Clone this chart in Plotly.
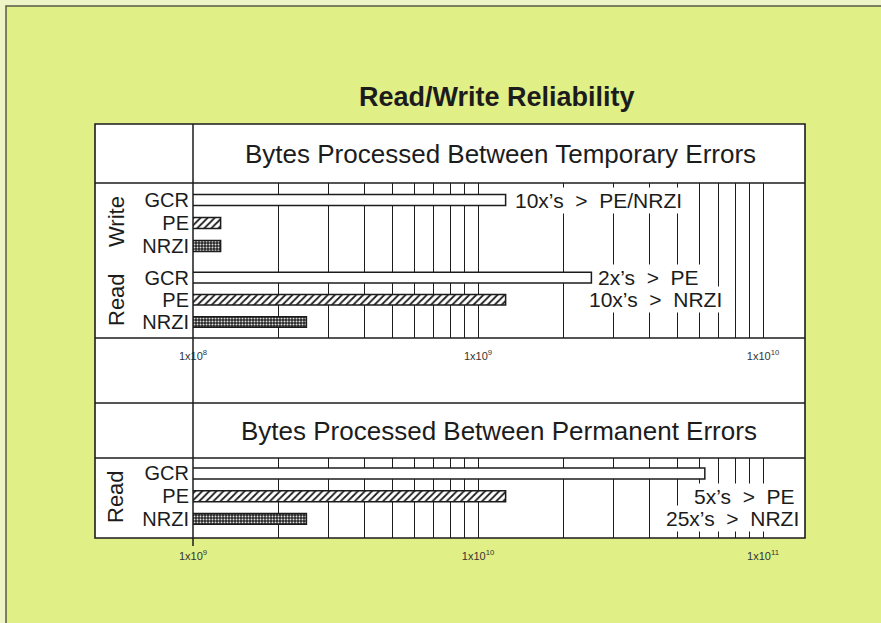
import numpy as np
import plotly.graph_objects as go

# values (bytes processed between errors)
rows = ["GCR", "PE", "NRZI"]
temp_write = [1.25e9, 1.25e8, 1.25e8]
temp_read = [2.5e9, 1.25e9, 2.5e8]
perm_read = [6.25e10, 1.25e10, 2.5e9]

temp_decades = [8, 9, 10]
perm_decades = [9, 10, 11]

title = "Read/Write Reliability"
temp_title = "Bytes Processed Between Temporary Errors"
perm_title = "Bytes Processed Between Permanent Errors"
write_note = "10x’s\u00a0 >\u00a0 PE/NRZI"
read_notes = ["2x’s\u00a0 >\u00a0 PE", "10x’s\u00a0 >\u00a0 NRZI"]
perm_notes = ["5x’s\u00a0 >\u00a0 PE", "25x’s\u00a0 >\u00a0 NRZI"]

W, H = 881, 623


def px(x):
    return x / W


def py(y):
    return 1 - y / H


FONT = "Liberation Sans, Arial, Helvetica, sans-serif"
INK = "#1c1c1c"
PAGE = "#e0ef86"

outline = dict(color=INK, width=1.5)
styles = {
    "GCR": dict(color="white", line=outline),
    "PE": dict(color="white", line=outline,
               pattern=dict(shape="/", fgcolor=INK, bgcolor="white",
                            size=5, solidity=0.35, fillmode="replace")),
    "NRZI": dict(color="#262626", line=outline,
                 pattern=dict(shape=".", fgcolor="#e0e0e0", bgcolor="#262626",
                              size=3, solidity=0.35, fillmode="replace")),
}


def decade_ticks(decades):
    vals = [10.0 ** d for d in decades]
    text = [f"1x10<sup>{d}</sup>" for d in decades]
    minor = [k * 10.0 ** d for d in decades[:-1] for k in range(2, 10)]
    return vals, text, minor


# one decade is ~285px wide, axis runs from x=193 to x=805
span = (805 - 193) / 285

fig = go.Figure()

panels = [(temp_write, "x", "y"), (temp_read, "x2", "y2"), (perm_read, "x3", "y3")]
for vals, xa, ya in panels:
    for name, v in zip(rows, vals):
        fig.add_trace(go.Bar(x=[v], y=[name], orientation="h", width=0.48,
                             marker=styles[name], xaxis=xa, yaxis=ya,
                             showlegend=False, hoverinfo="x+y"))


def xaxis(decades, anchor, labels):
    tv, tt, mv = decade_ticks(decades)
    return dict(domain=[px(193), px(805)], type="log",
                range=[decades[0], decades[0] + span], anchor=anchor,
                tickmode="array", tickvals=tv, ticktext=tt,
                showticklabels=labels, ticks="",
                showgrid=True, gridcolor=INK, gridwidth=1.3, zeroline=False,
                minor=dict(tickmode="array", tickvals=mv, ticks="",
                           showgrid=True, gridcolor=INK, gridwidth=1.3),
                showline=False, ticklabelstandoff=10, automargin=False,
                tickfont=dict(size=11, color="#333", family=FONT))


def yaxis(top, bottom, anchor, rng):
    return dict(domain=[py(bottom), py(top)], type="category",
                categoryorder="array", categoryarray=rows, range=rng,
                tickmode="array", tickvals=rows, ticktext=rows,
                anchor=anchor, showgrid=False, zeroline=False, ticks="",
                automargin=False, ticklabelstandoff=3,
                tickfont=dict(size=20, color=INK, family=FONT))


fig.update_layout(
    width=W, height=H, autosize=False,
    margin=dict(l=0, r=0, t=0, b=0, pad=0),
    paper_bgcolor="#eef4c6", plot_bgcolor="rgba(0,0,0,0)",
    barmode="overlay",
    font=dict(family=FONT, color=INK),
    xaxis=xaxis(temp_decades, "y", False),
    xaxis2=xaxis(temp_decades, "y2", True),
    xaxis3=xaxis(perm_decades, "y3", True),
    yaxis=yaxis(183, 260, "x", [2.61, -0.74]),
    yaxis2=yaxis(260, 338, "x2", [2.72, -0.79]),
    yaxis3=yaxis(458, 538, "x3", [2.84, -0.68]),
)

# page, white panel and the ruled frame
shapes = [
    dict(type="rect", xref="paper", yref="paper", x0=px(6), x1=px(890),
         y0=py(640), y1=py(6), fillcolor=PAGE, line=dict(color="#5a5a48", width=1.5),
         layer="below"),
    dict(type="rect", xref="paper", yref="paper", x0=px(95), x1=px(805),
         y0=py(538), y1=py(124), fillcolor="white", line=dict(color=INK, width=1.6),
         layer="below"),
    dict(type="line", xref="paper", yref="paper", x0=px(193), x1=px(193),
         y0=py(546), y1=py(124), line=dict(color=INK, width=1.5), layer="above"),
    dict(type="line", xref="x2", yref="y2 domain", x0=temp_decades[0],
         x1=temp_decades[-1], y0=1, y1=1, line=dict(color=INK, width=1.5),
         layer="above"),
]
for y in [183, 338, 403, 458]:
    shapes.append(dict(type="line", xref="paper", yref="paper", x0=px(95),
                       x1=px(805), y0=py(y), y1=py(y),
                       line=dict(color=INK, width=1.5), layer="above"))
fig.update_layout(shapes=shapes)


def label(text, x, y, size, angle=0):
    return dict(text=text, xref="paper", yref="paper", x=px(x), y=py(y),
                xanchor="center", yanchor="middle", textangle=angle,
                showarrow=False, font=dict(size=size, color=INK, family=FONT))


note_font = dict(size=21, color=INK, family=FONT)
annotations = [
    label(f"<b>{title}</b>", 497, 97, 27),
    label(temp_title, 500, 154, 26),
    label(perm_title, 499, 431, 26),
    label("Write", 116, 222, 22, -90),
    label("Read", 116, 300, 22, -90),
    label("Read", 116, 497, 22, -90),
    dict(text=write_note, xref="x", yref="y", x=np.log10(temp_write[0]), y=rows[0],
         xanchor="left", yanchor="middle", xshift=7, showarrow=False,
         bgcolor="white", font=note_font),
    dict(text=read_notes[0], xref="x2", yref="y2", x=np.log10(temp_read[0]), y=rows[0],
         xanchor="left", yanchor="middle", xshift=5, showarrow=False,
         bgcolor="white", font=note_font),
    dict(text=read_notes[1], xref="paper", yref="y2", x=px(655), y=rows[1],
         xanchor="center", yanchor="middle", showarrow=False,
         bgcolor="white", font=note_font),
    dict(text=perm_notes[0], xref="paper", yref="y3", x=px(797), y=rows[1],
         xanchor="right", yanchor="middle", showarrow=False,
         bgcolor="white", font=note_font),
    dict(text=perm_notes[1], xref="paper", yref="y3", x=px(801), y=rows[2],
         xanchor="right", yanchor="middle", showarrow=False,
         bgcolor="white", font=note_font),
]
fig.update_layout(annotations=annotations)

fig.write_html("out.html", config={"displayModeBar": False},
               post_script="document.body.style.margin='0';"
                           "document.body.style.overflow='hidden';")
